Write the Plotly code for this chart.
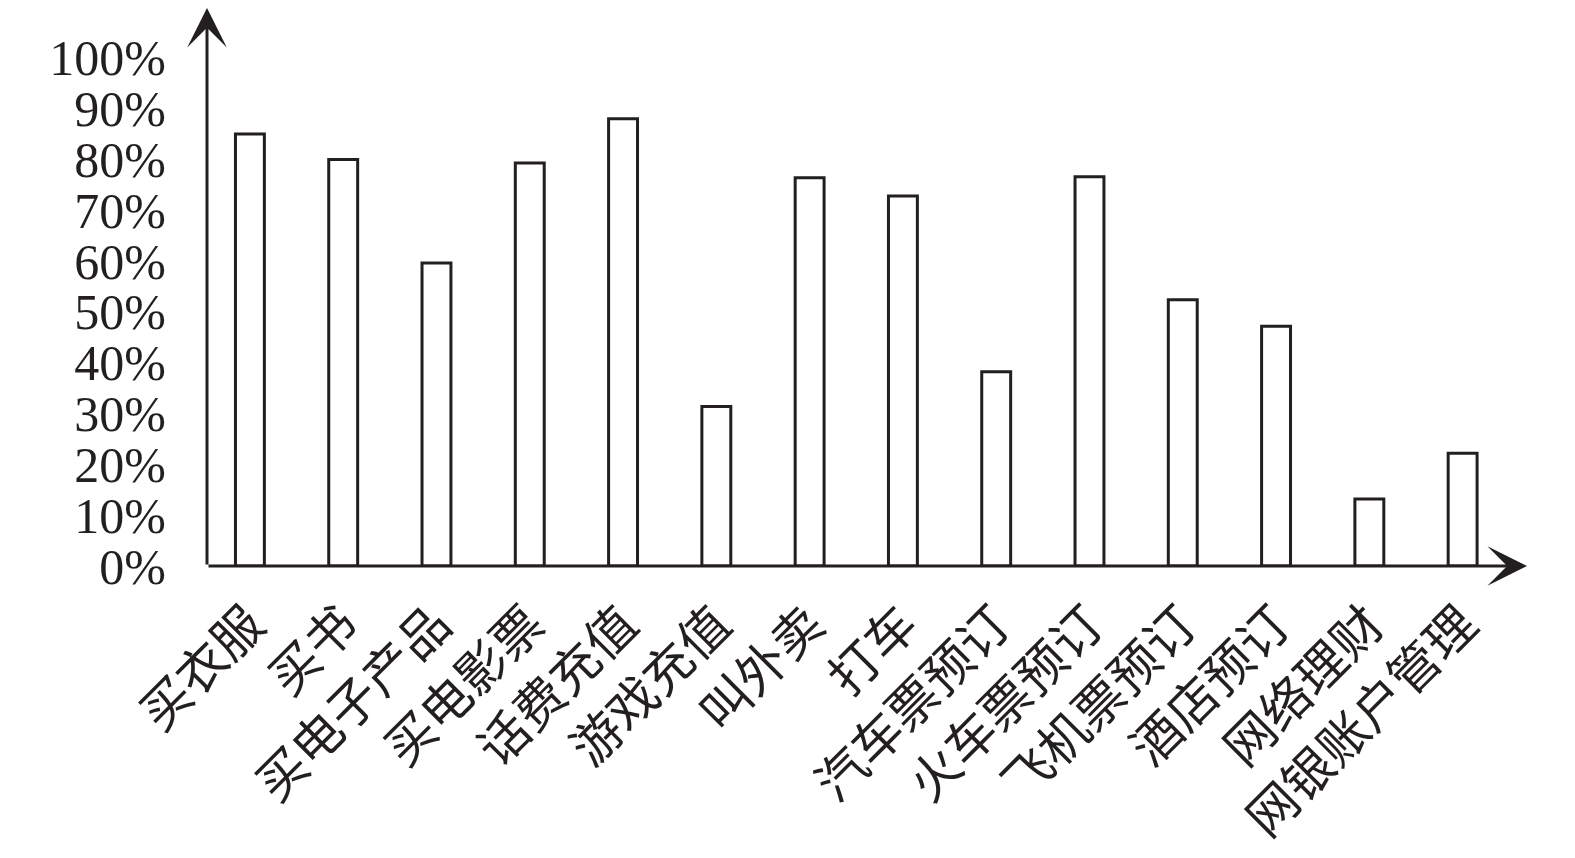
import plotly.graph_objects as go

categories = ["买衣服", "买书", "买电子产品", "买电影票", "话费充值", "游戏充值", "叫外卖",
              "打车", "汽车票预订", "火车票预订", "飞机票预订", "酒店预订", "网络理财", "网银账户管理"]
values = [0.85, 0.80, 0.596, 0.793, 0.88, 0.314, 0.764, 0.728, 0.382, 0.766, 0.524, 0.472, 0.132, 0.222]
y_ticks = [0, 0.1, 0.2, 0.3, 0.4, 0.5, 0.6, 0.7, 0.8, 0.9, 1.0]
y_tick_labels = ["0%", "10%", "20%", "30%", "40%", "50%", "60%", "70%", "80%", "90%", "100%"]

INK = "#231f20"
x_idx = list(range(len(categories)))
x_min, x_max = -0.46, 13.69
y_max = 1.098

fig = go.Figure()
fig.add_trace(go.Bar(
    x=x_idx, y=values, width=0.31,
    marker=dict(color="white", line=dict(color=INK, width=3)),
    hoverinfo="x+y",
))

# page body has an 8px default margin, so the figure is offset by 8px
fig.update_layout(
    width=1559, height=842,
    margin=dict(l=199, r=40, t=0, b=284),
    paper_bgcolor="white", plot_bgcolor="white",
    showlegend=False,
    xaxis=dict(
        range=[x_min, x_max], tickmode="array", tickvals=x_idx, ticktext=categories,
        tickangle=-45, showgrid=False, zeroline=False, showline=False, ticks="",
        automargin=False, ticklabelstandoff=18,
        tickfont=dict(family="Noto Sans CJK SC", size=50, color=INK),
    ),
    yaxis=dict(
        range=[0, y_max], tickmode="array", tickvals=y_ticks, ticktext=y_tick_labels,
        showgrid=False, zeroline=False, showline=False, ticks="",
        automargin=False, ticklabelstandoff=40,
        tickfont=dict(family="Liberation Serif", size=50, color=INK),
    ),
)

# axes with arrowheads
fig.add_annotation(x=x_min, y=y_max, ax=x_min, ay=0, xref="x", yref="y", axref="x", ayref="y",
                   showarrow=True, arrowhead=3, arrowsize=2.2, arrowwidth=3, arrowcolor=INK, text="")
fig.add_annotation(x=x_max, y=0, ax=x_min, ay=0, xref="x", yref="y", axref="x", ayref="y",
                   showarrow=True, arrowhead=3, arrowsize=2.2, arrowwidth=3, arrowcolor=INK, text="")

fig.write_html("out.html")
